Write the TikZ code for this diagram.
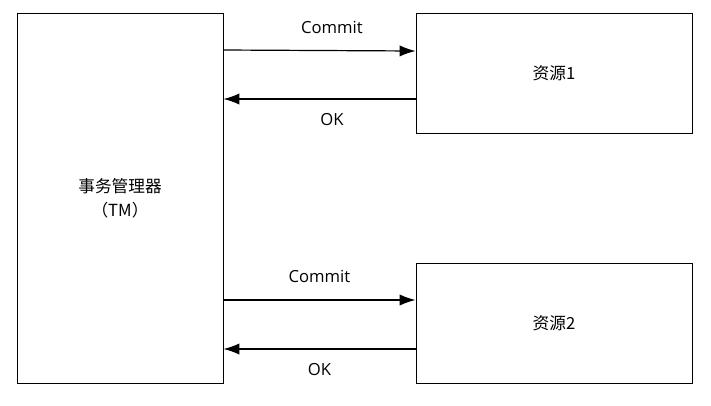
\documentclass[tikz,border=0pt]{standalone}
\usepackage{fontspec}
\setmainfont{Open Sans}
\newfontfamily\cjk{Noto Sans CJK SC}
\usetikzlibrary{arrows.meta}

\begin{document}
\begin{tikzpicture}[x=0.75pt, y=-0.75pt, font=\fontsize{12.5}{15}\selectfont,
    box/.style={draw, line width=0.7pt, inner sep=0pt, align=center},
    msg/.style={line width=0.9pt, -{Latex[length=12pt, width=8.5pt]}}]
    \useasboundingbox (0,0) rectangle (711,405);

    % Draw nodes
    \node[box, minimum width=206*0.75pt, minimum height=370*0.75pt] (tm) at (120,198) {{\cjk 事务管理器}\\[3pt]{\cjk （TM）}};
    \node[box, minimum width=276*0.75pt, minimum height=120*0.75pt] (r1) at (554,73) {\cjk 资源1};
    \node[box, minimum width=276*0.75pt, minimum height=120*0.75pt] (r2) at (554,323) {\cjk 资源2};

    % Draw connections
    \draw[msg] (tm.east |- 0,50) -- (r1.west |- 0,51) node[pos=0.565, above=9pt] {Commit};
    \draw[msg] (r1.west |- 0,99) -- (tm.east |- 0,99) node[pos=0.435, below=7pt] {OK};
    \draw[msg] (tm.east |- 0,300) -- (r2.west |- 0,300) node[midway, above=9pt] {Commit};
    \draw[msg] (r2.west |- 0,349) -- (tm.east |- 0,349) node[midway, below=7pt] {OK};
\end{tikzpicture}
\end{document}
